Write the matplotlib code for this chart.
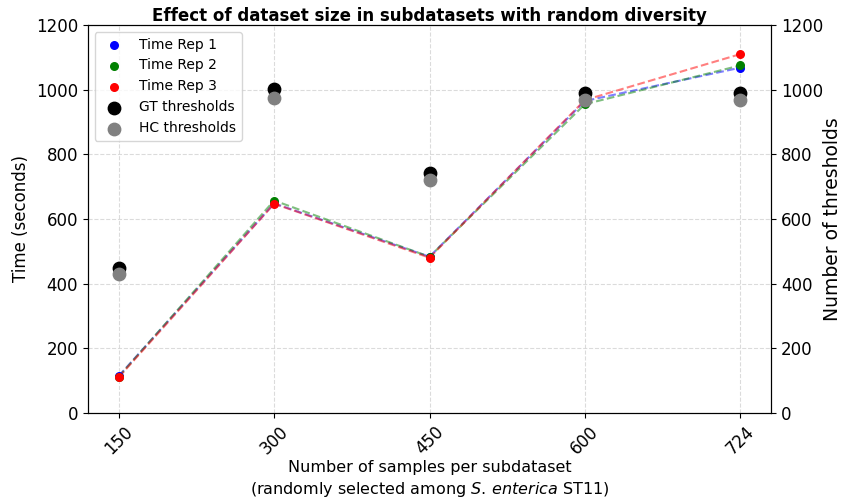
import matplotlib
matplotlib.use("Agg")
import matplotlib.pyplot as plt
import numpy as np

categories = ["150", "300", "450", "600", "724"]
time_rep1 = [114, 648, 483, 965, 1068]
time_rep2 = [112, 657, 483, 955, 1075]
time_rep3 = [110, 647, 480, 968, 1110]
gt_thresholds = [448, 1002, 742, 990, 990]
hc_thresholds = [430, 975, 720, 968, 968]

x = np.arange(len(categories))

fig, ax = plt.subplots(figsize=(8.43, 5.01), dpi=100)
fig.subplots_adjust(left=0.104, right=0.915, top=0.950, bottom=0.176)

ax.plot(x, time_rep1, '--', color='blue', alpha=0.5, zorder=2)
ax.plot(x, time_rep2, '--', color='green', alpha=0.5, zorder=2)
ax.plot(x, time_rep3, '--', color='red', alpha=0.5, zorder=2)
ax.scatter(x, time_rep1, color='blue', s=30, label='Time Rep 1', zorder=3)
ax.scatter(x, time_rep2, color='green', s=30, label='Time Rep 2', zorder=3)
ax.scatter(x, time_rep3, color='red', s=30, label='Time Rep 3', zorder=3)

ax2 = ax.twinx()
ax2.scatter(x, gt_thresholds, color='black', s=80, label='GT thresholds', zorder=3)
ax2.scatter(x, hc_thresholds, color='gray', s=80, label='HC thresholds', zorder=3)

ax.set_ylim(0, 1200)
ax2.set_ylim(0, 1200)
ax.set_xticks(x)
ax.set_xticklabels(categories, rotation=45, fontsize=12)
ax.tick_params(axis='y', labelsize=12)
ax2.tick_params(axis='y', labelsize=12)
ax.grid(True, linestyle='--', color='lightgray', alpha=0.8)

ax.set_ylabel('Time (seconds)', fontsize=12)
ax2.set_ylabel('Number of thresholds', fontsize=13.5, labelpad=0)
ax.set_xlabel('Number of samples per subdataset\n(randomly selected among $\\it{S.\\,enterica}$ ST11)',
              fontsize=11.5, labelpad=2, linespacing=1.3)
ax.set_title('Effect of dataset size in subdatasets with random diversity', fontsize=12, fontweight='bold', pad=3)

h1, l1 = ax.get_legend_handles_labels()
h2, l2 = ax2.get_legend_handles_labels()
ax.legend(h1 + h2, l1 + l2, loc='upper left', fontsize=10)

fig.savefig('out.png', dpi=100)
